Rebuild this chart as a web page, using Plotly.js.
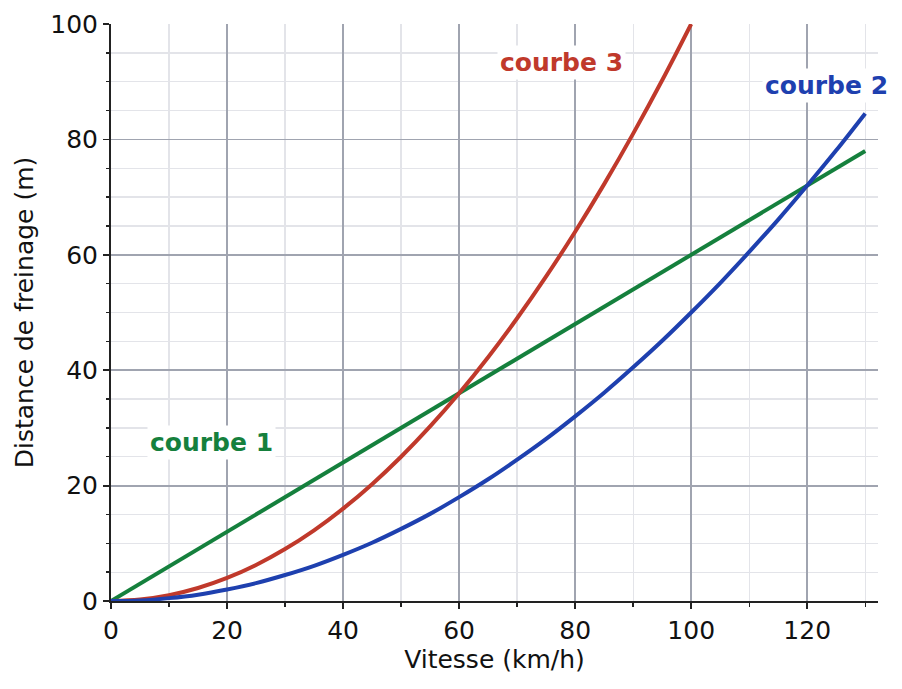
<!DOCTYPE html>
<html>
<head>
<meta charset="utf-8">
<script src="https://cdn.plot.ly/plotly-3.0.1.min.js"></script>
<style>html,body{margin:0;padding:0;background:#fff;}#chart{width:902px;height:689px;}</style>
</head>
<body>
<div id="chart"></div>
<script>
// Vitesse (km/h)
const vitesse = [0,5,10,15,20,25,30,35,40,45,50,55,60,65,70,75,80,85,90,95,100,105,110,115,120,125,130];
// courbe 1 (green, linear)
const courbe1 = [0,3,6,9,12,15,18,21,24,27,30,33,36,39,42,45,48,51,54,57,60,63,66,69,72,75,78];
// courbe 2 (blue)
const courbe2 = [0,0.1,0.5,1.1,2,3.1,4.5,6.1,8,10.1,12.5,15.1,18,21.1,24.5,28.1,32,36.1,40.5,45.1,50,55.1,60.5,66.1,72,78.1,84.5];
// courbe 3 (red), up to 100 km/h
const vitesse3 = [0,5,10,15,20,25,30,35,40,45,50,55,60,65,70,75,80,85,90,95,100];
const courbe3 = [0,0.25,1,2.25,4,6.25,9,12.25,16,20.25,25,30.25,36,42.25,49,56.25,64,72.25,81,90.25,100];

const labels = ["courbe 1", "courbe 2", "courbe 3"];
const labelX = [17.4, 123.3, 77.6];
const labelY = [27.4, 89.3, 93.4];
const colors = ["#15803d", "#1e40af", "#c0392b"];

const font = "DejaVu Sans, sans-serif";
const traces = [
  {x: vitesse, y: courbe1, mode: "lines", line: {color: colors[0], width: 4}, hoverinfo: "skip"},
  {x: vitesse3, y: courbe3, mode: "lines", line: {color: colors[2], width: 4, shape: "spline"}, hoverinfo: "skip"},
  {x: vitesse, y: courbe2, mode: "lines", line: {color: colors[1], width: 4, shape: "spline"}, hoverinfo: "skip"}
];
const annotations = labels.map((t, i) => ({
  x: labelX[i], y: labelY[i], xref: "x", yref: "y", text: "<b>" + t + "</b>",
  showarrow: false, bgcolor: "white", borderpad: 2,
  font: {family: font, size: 25, color: colors[i]}
}));
const axisCommon = {
  showline: true, linecolor: "#222", linewidth: 2,
  ticks: "outside", ticklen: 6, tickwidth: 1.8, tickcolor: "#222",
  showgrid: true, gridcolor: "#a0a4b0", gridwidth: 1.8,
  zeroline: false, tickfont: {family: font, size: 25, color: "#111"},
  mirror: false
};
const layout = {
  width: 902, height: 689,
  margin: {l: 111, r: 24, t: 24, b: 88},
  paper_bgcolor: "white", plot_bgcolor: "white",
  showlegend: false,
  xaxis: Object.assign({}, axisCommon, {
    range: [0, 132.2], dtick: 20, tick0: 0,
    title: {text: "Vitesse (km/h)", font: {family: font, size: 25, color: "#111"}, standoff: 6},
    minor: {dtick: 10, showgrid: true, gridcolor: "#e3e4e9", gridwidth: 1.3, ticks: "outside", ticklen: 3.5, tickcolor: "#222", tickwidth: 1.4}
  }),
  yaxis: Object.assign({}, axisCommon, {
    range: [0, 100], dtick: 20, tick0: 0,
    title: {text: "Distance de freinage (m)", font: {family: font, size: 25, color: "#111"}, standoff: 10},
    minor: {dtick: 5, showgrid: true, gridcolor: "#e3e4e9", gridwidth: 1.3, ticks: "outside", ticklen: 3.5, tickcolor: "#222", tickwidth: 1.4}
  }),
  annotations: annotations
};
Plotly.newPlot("chart", traces, layout, {staticPlot: true, displayModeBar: false});
</script>
</body>
</html>
